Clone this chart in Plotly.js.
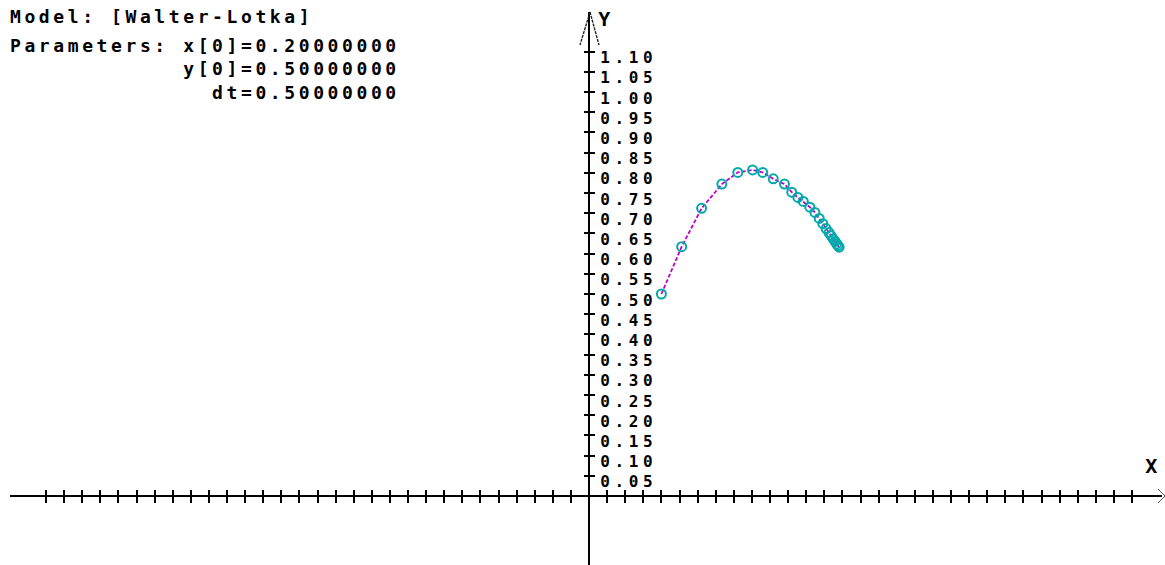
<!DOCTYPE html>
<html><head><meta charset="utf-8">
<script src="https://cdn.plot.ly/plotly-3.0.1.min.js"></script>
<style>
html,body{margin:0;padding:0;background:#fff;overflow:hidden;}
#chart{width:1165px;height:565px;}
#chart .annotation-text{letter-spacing:3.6px;}
#chart .ytick text{letter-spacing:4.6px;}
</style></head><body><div id="chart"></div>
<script>
// ---- chart content ----
const modelName = 'Walter-Lotka';
const paramX0 = '0.20000000';
const paramY0 = '0.50000000';
const paramDt = '0.50000000';

const xValues = [0.200,0.256,0.311,0.367,0.411,0.452,0.480,0.509,0.540,0.560,0.577,0.592,0.610,0.624,0.636,0.646,0.655,0.663,0.669,0.675,0.680,0.684,0.688,0.691];
const yValues = [0.500,0.617,0.712,0.772,0.801,0.807,0.801,0.785,0.772,0.752,0.739,0.729,0.715,0.702,0.687,0.674,0.662,0.652,0.644,0.636,0.630,0.624,0.620,0.616];

const yTickVals = [0.05,0.10,0.15,0.20,0.25,0.30,0.35,0.40,0.45,0.50,0.55,0.60,0.65,0.70,0.75,0.80,0.85,0.90,0.95,1.00,1.05,1.10];
const yTickText = ['0.05','0.10','0.15','0.20','0.25','0.30','0.35','0.40','0.45','0.50','0.55','0.60','0.65','0.70','0.75','0.80','0.85','0.90','0.95','1.00','1.05','1.10'];
const xTickVals = [-1.50,-1.45,-1.40,-1.35,-1.30,-1.25,-1.20,-1.15,-1.10,-1.05,-1.00,-0.95,-0.90,-0.85,-0.80,-0.75,-0.70,-0.65,-0.60,-0.55,-0.50,-0.45,-0.40,-0.35,-0.30,-0.25,-0.20,-0.15,-0.10,-0.05,
  0.05,0.10,0.15,0.20,0.25,0.30,0.35,0.40,0.45,0.50,0.55,0.60,0.65,0.70,0.75,0.80,0.85,0.90,0.95,1.00,1.05,1.10,1.15,1.20,1.25,1.30,1.35,1.40,1.45,1.50];
const xAxisName = 'X';
const yAxisName = 'Y';

// ---- geometry (pixels) ----
const W = 1165, H = 565;
const OX = 589, OY = 496;      // origin in pixels
const SX = 362, SY = 404;      // pixels per unit
const xr = [-OX / SX, (W - OX) / SX];
const yr = [(OY - H) / SY, OY / SY];
const px = v => v / W;
const py = v => 1 - v / H;

const FONT = 'DejaVu Sans Mono';
const tickCommonX = {range: xr, anchor: 'free', position: (H - OY) / H, side: 'bottom',
  showgrid: false, zeroline: false, showline: false, tickmode: 'array', tickvals: xTickVals,
  ticklen: 6, tickwidth: 2, tickcolor: '#000', showticklabels: false, fixedrange: true};
const tickCommonY = {range: yr, anchor: 'free', position: OX / W, side: 'right',
  showgrid: false, zeroline: false, showline: false, tickmode: 'array', tickvals: yTickVals, ticktext: yTickText,
  ticklen: 5, tickwidth: 2, tickcolor: '#000', fixedrange: true};

const traces = [
  {x: xValues, y: yValues, type: 'scatter', mode: 'lines+markers',
   line: {color: '#c000c8', width: 1.8, dash: '4px,2px'},
   marker: {symbol: 'circle-open', size: 9, color: '#00aaaa', line: {width: 2, color: '#00aaaa'}},
   hoverinfo: 'skip', showlegend: false},
  {x: [], y: [], xaxis: 'x2', yaxis: 'y2', type: 'scatter', mode: 'markers', showlegend: false, hoverinfo: 'skip'}
];

const ax = '#000';
const shapes = [
  {type: 'line', xref: 'paper', yref: 'y', x0: px(10), x1: px(1162), y0: 0, y1: 0, line: {color: ax, width: 2}},
  {type: 'line', xref: 'x', yref: 'paper', x0: 0, x1: 0, y0: 0, y1: py(12), line: {color: ax, width: 2}},
  {type: 'line', xref: 'paper', yref: 'paper', x0: px(590), x1: px(580), y0: py(12), y1: py(45), line: {color: '#222', width: 1.4, dash: '3px,1px'}},
  {type: 'line', xref: 'paper', yref: 'paper', x0: px(590), x1: px(599), y0: py(12), y1: py(45), line: {color: '#222', width: 1.4, dash: '3px,1px'}},
  {type: 'line', xref: 'paper', yref: 'paper', x0: px(1165), x1: px(1158), y0: py(OY), y1: py(OY - 7), line: {color: '#555', width: 1}},
  {type: 'line', xref: 'paper', yref: 'paper', x0: px(1165), x1: px(1158), y0: py(OY), y1: py(OY + 7), line: {color: '#555', width: 1}}
];

const nb = '\u00a0';
const annFont = {family: FONT, size: 18, color: '#000', weight: 'bold'};
const annotations = [
  {xref: 'paper', yref: 'paper', x: px(8), y: py(17), xanchor: 'left', yanchor: 'middle', showarrow: false,
   text: 'Model:' + nb + '[' + modelName + ']', font: annFont, align: 'left'},
  {xref: 'paper', yref: 'paper', x: px(8), y: py(33), xanchor: 'left', yanchor: 'top', showarrow: false, align: 'left',
   text: 'Parameters:' + nb + 'x[0]=' + paramX0 + '<br>' + nb.repeat(12) + 'y[0]=' + paramY0 + '<br>' + nb.repeat(14) + 'dt=' + paramDt,
   font: annFont},
  {xref: 'paper', yref: 'paper', x: px(598), y: py(19), xanchor: 'left', yanchor: 'middle', showarrow: false,
   text: yAxisName, font: Object.assign({}, annFont, {size: 20})},
  {xref: 'paper', yref: 'paper', x: px(1145), y: py(466), xanchor: 'left', yanchor: 'middle', showarrow: false,
   text: xAxisName, font: Object.assign({}, annFont, {size: 20})}
];

const layout = {
  width: W, height: H,
  margin: {l: 0, r: 0, t: 0, b: 0, pad: 0},
  paper_bgcolor: '#fff', plot_bgcolor: '#fff',
  showlegend: false,
  xaxis: Object.assign({}, tickCommonX, {ticks: 'outside'}),
  xaxis2: Object.assign({}, tickCommonX, {ticks: 'inside', overlaying: 'x'}),
  yaxis: Object.assign({}, tickCommonY, {ticks: 'outside', showticklabels: true,
    tickfont: {family: FONT, size: 16, color: '#000', weight: 'bold'}, ticklabelshift: 6, ticklabelstandoff: 2}),
  yaxis2: Object.assign({}, tickCommonY, {ticks: 'inside', overlaying: 'y', showticklabels: false}),
  shapes: shapes,
  annotations: annotations
};

Plotly.newPlot('chart', traces, layout, {staticPlot: true, displayModeBar: false});
</script>
</body></html>
